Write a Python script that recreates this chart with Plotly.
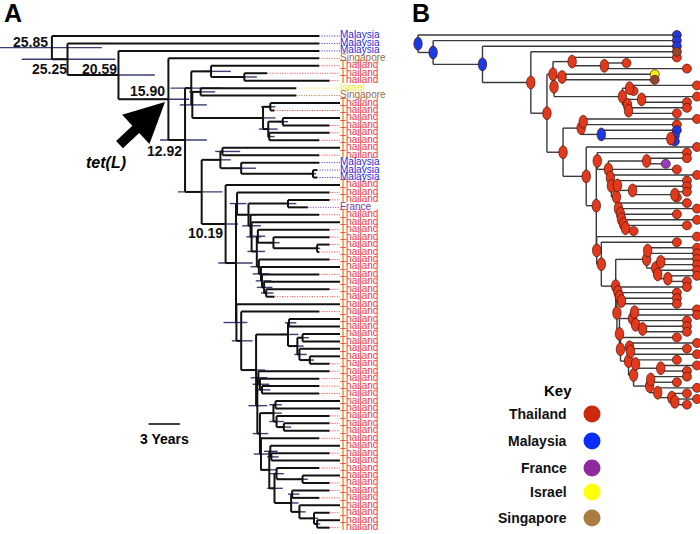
import plotly.graph_objects as go

# ---------------- data ----------------
tip_country = (["Malaysia"] * 3 + ["Singapore"] + ["Thailand"] * 3 + ["Israel", "Singapore"]
               + ["Thailand"] * 8 + ["Malaysia"] * 3 + ["Thailand"] * 3 + ["France"]
               + ["Thailand"] * 43)
# sampling age of each tip (years before the latest sample)
tip_age = [2, 2, 2, 2, 2, 7, 1, 4.2, 4.2, 0,
           6.3, 0, 1, 1, 2, 0, 2, 2, 2.2, 2.2,
           0, 1, 1, 3.1, 2, 0, 1, 1, 1, 2,
           1, 0, 2, 0, 1, 6.3, 0, 2, 0, 0,
           0, 0, 0, 0, 1, 1, 2, 2, 2, 0,
           0, 1, 1, 1, 2, 0, 1, 0, 2, 0,
           1, 1, 2, 0, 1, 0, 1]

node_name = ["N0", "N1", "N2", "N3", "N4",
             "U", "U1", "U1a", "U2", "U2a", "U2b", "U3", "U4", "U4a", "U4b",
             "L", "L1", "L1a", "L1b", "L1c",
             "P", "Q", "R", "R2", "R3", "X", "X2", "X3", "X4", "X5", "X5a", "X6", "X7", "X8", "X9", "X10",
             "S", "S2", "S3", "A6", "A1", "A5", "A2", "A4", "A3",
             "S4", "S5", "S6", "S6b", "S7", "C1", "C2", "C3", "C4",
             "D1", "D2", "D3", "D4", "D5", "D6", "D7", "D8", "D9", "D10", "D11", "D12"]
node_kids = [
    ["t0", "N1"], ["t1", "N2"], ["t2", "N3"], ["t3", "N4"], ["U", "L"],
    ["U1", "U2"], ["t4", "U1a"], ["t5", "t6"], ["U2a", "U2b"], ["t7", "t8"], ["U3", "U4"],
    ["t9", "t10"], ["U4a", "U4b"], ["t11", "t12"], ["t13", "t14"],
    ["L1", "P"], ["L1a", "L1b"], ["t15", "t16"], ["t17", "L1c"], ["t18", "t19"],
    ["t20", "Q"], ["R", "S"], ["t21", "R2"], ["R3", "X"], ["t22", "t23"], ["t24", "X2"],
    ["t25", "X3"], ["X4", "X6"], ["t26", "X5"], ["t27", "X5a"], ["t28", "t29"], ["t30", "X7"],
    ["t31", "X8"], ["t32", "X9"], ["t33", "X10"], ["t34", "t35"],
    ["t36", "S2"], ["t37", "S3"], ["A6", "S4"], ["A1", "A5"], ["t38", "t39"], ["A2", "A4"],
    ["t40", "t41"], ["t42", "A3"], ["t43", "t44"],
    ["S5", "S7"], ["t45", "S6"], ["t46", "S6b"], ["t47", "t48"], ["C1", "D1"], ["C2", "C3"],
    ["t49", "t50"], ["t51", "C4"], ["t52", "t53"],
    ["t54", "D2"], ["D3", "D5"], ["t55", "D4"], ["t56", "t57"], ["D6", "D8"], ["t58", "D7"],
    ["t59", "t60"], ["D9", "D10"], ["t61", "t62"], ["t63", "D11"], ["t64", "D12"], ["t65", "t66"],
]
node_age = [27.7, 26.2, 21.3, 16.5, 14.9,
            14.3, 12.4, 9.2, 14.2, 13.4, 7.4, 6.7, 6.9, 5.5, 6.8,
            13.3, 11.5, 11.3, 9.5, 2.6,
            11.0, 10.0, 9.9, 8.8, 5.0, 8.6, 8.5, 8.0, 7.9, 6.4, 2.2, 7.8, 7.6, 7.5, 7.3, 7.1,
            9.96, 9.5, 8.07, 5.0, 4.9, 4.1, 3.6, 3.9, 2.9,
            7.95, 7.85, 7.7, 7.5, 7.7, 6.4, 6.2, 6.1, 5.4,
            7.6, 6.8, 6.7, 6.6, 6.3, 6.1, 3.6, 4.7, 4.6, 3.9, 2.5, 2.2]
hpd_old = [32.7, 30.6, 23.5, 18.8, 17.3,
           16.3, 13.3, 9.6, 15.4, 14.5, 8.6, 7.6, 7.8, 6.0, 7.0,
           15.6, 12.5, 12.0, 10.4, 2.8,
           11.7, 11.7, 10.6, 9.8, 5.1, 9.4, 9.0, 8.9, 8.6, 7.0, 2.4, 8.6, 8.4, 8.1, 8.0, 7.6,
           11.2, 10.4, 9.0, 5.8, 5.3, 4.9, 4.0, 4.4, 3.3,
           8.8, 8.6, 8.4, 8.0, 8.4, 7.2, 6.8, 6.8, 5.9,
           8.3, 7.7, 7.3, 7.0, 7.0, 6.8, 4.0, 5.4, 5.0, 4.5, 2.9, 2.4]
hpd_young = [22.9, 21.6, 17.8, 14.5, 12.8,
             11.3, 10.5, 8.0, 12.8, 12.0, 6.2, 6.2, 6.0, 5.0, 6.3,
             11.3, 10.5, 9.6, 8.1, 2.3,
             9.8, 8.4, 9.0, 8.0, 4.2, 7.6, 7.6, 7.2, 7.2, 5.8, 1.9, 7.0, 6.8, 6.6, 6.5, 6.4,
             8.9, 8.4, 7.2, 4.0, 4.2, 3.5, 3.0, 3.2, 2.5,
             7.0, 7.0, 6.8, 6.7, 6.9, 5.6, 5.6, 5.4, 4.7,
             6.8, 6.0, 6.0, 5.9, 5.5, 5.4, 3.1, 4.0, 3.9, 3.3, 2.1, 1.9]
malaysia_nodes = ["N0", "N1", "N2", "L1b"]

node_labels = ["25.85", "25.25", "20.59", "15.90", "12.92", "10.19"]
node_label_px = [30, 49.5, 99, 147, 164.5, 205.5]
node_label_py = [42, 69, 69, 90.5, 151, 233]

countries = ["Thailand", "Malaysia", "France", "Israel", "Singapore"]
key_color = {"Thailand": "#cc2a0c", "Malaysia": "#0a2cff", "France": "#8e2a9e",
             "Israel": "#ffff0a", "Singapore": "#a97c44"}
text_color = {"Thailand": "#f03c3c", "Malaysia": "#2b2bd9", "France": "#7a3aa0",
              "Israel": "#ecea22", "Singapore": "#9c6b3c"}
dot_color = {"Thailand": "#e2381c", "Malaysia": "#1a3ae8", "France": "#9a3ac0",
             "Israel": "#f5f010", "Singapore": "#94452c"}
scale_years = 3

# ---------------- tree geometry ----------------
W, H = 700, 534
kids = dict(zip(node_name, node_kids))
age = dict(zip(node_name, node_age))
for i, a in enumerate(tip_age):
    age["t%d" % i] = a
parent = {}
for n, ks in kids.items():
    for k in ks:
        parent[k] = n

ypos = {}


def gety(n):
    if n in ypos:
        return ypos[n]
    if n.startswith("t"):
        v = float(n[1:])
    else:
        v = 0.5 * (gety(kids[n][0]) + gety(kids[n][-1]))
    ypos[n] = v
    return v


for n in node_name:
    gety(n)
for i in range(len(tip_age)):
    gety("t%d" % i)


def branch_xy():
    xs, ys = [], []
    for n in list(parent.keys()):
        xs += [age[parent[n]], age[n], None]
        ys += [ypos[n], ypos[n], None]
    for n in node_name:
        ks = kids[n]
        xs += [age[n], age[n], None]
        ys += [ypos[ks[0]], ypos[ks[-1]], None]
    return xs, ys


bx, by = branch_xy()
fig = go.Figure()

# ---------- panel A ----------
hx, hy = [], []
for n, o, yg in zip(node_name, hpd_old, hpd_young):
    hx += [o, yg, None]
    hy += [ypos[n], ypos[n], None]
fig.add_trace(go.Scatter(x=hx, y=hy, mode="lines", line=dict(color="#3b3f72", width=1.4),
                         hoverinfo="skip", xaxis="x", yaxis="y"))
fig.add_trace(go.Scatter(x=bx, y=by, mode="lines", line=dict(color="#111111", width=2),
                         hoverinfo="skip", xaxis="x", yaxis="y"))
for c in countries:
    dx, dy, lx, ly = [], [], [], []
    for i, (cc, a) in enumerate(zip(tip_country, tip_age)):
        if cc != c:
            continue
        lx.append(0)
        ly.append(i)
        if a > 0:
            dx += [a, 0, None]
            dy += [i, i, None]
    fig.add_trace(go.Scatter(x=dx, y=dy, mode="lines",
                             line=dict(color=text_color[c], width=1, dash="1px,1.5px"),
                             hoverinfo="skip", xaxis="x", yaxis="y"))
    fig.add_trace(go.Scatter(x=lx, y=ly, mode="text", text=[c] * len(lx),
                             textposition="middle right", cliponaxis=False,
                             textfont=dict(family="Liberation Sans, Arial", size=10, color=text_color[c]),
                             hoverinfo="skip", xaxis="x", yaxis="y"))

# ---------- panel B ----------
fig.add_trace(go.Scatter(x=bx, y=by, mode="lines", line=dict(color="#3a3a3a", width=1.4),
                         hoverinfo="skip", xaxis="x2", yaxis="y2"))
shapes = []
for n in node_name:
    col = dot_color["Malaysia"] if n in malaysia_nodes else dot_color["Thailand"]
    shapes.append(dict(type="circle", xref="x2", yref="y2",
                       x0=age[n] + 0.42, x1=age[n] - 0.42,
                       y0=ypos[n] - 1.15, y1=ypos[n] + 1.15,
                       fillcolor=col, line=dict(color="#4a1408", width=0.7), layer="above"))
for c in countries:
    tx = [a for cc, a in zip(tip_country, tip_age) if cc == c]
    ty = [i for i, cc in enumerate(tip_country) if cc == c]
    fig.add_trace(go.Scatter(x=tx, y=ty, mode="markers",
                             marker=dict(size=9, color=dot_color[c],
                                         line=dict(color="#4a1408", width=0.7)),
                             hoverinfo="skip", xaxis="x2", yaxis="y2"))

# ---------- decorations ----------
bold = "Liberation Sans, Arial, sans-serif"
ann = []


def note(px, py, text, size, xanchor="center", color="#111111"):
    ann.append(dict(x=px / W, y=1 - py / H, xref="paper", yref="paper", xanchor=xanchor,
                    yanchor="middle", text=text, showarrow=False,
                    font=dict(family=bold, size=size, color=color)))


note(13, 13, "<b>A</b>", 25, color="black")
note(421, 13, "<b>B</b>", 25, color="black")
for t, px, py in zip(node_labels, node_label_px, node_label_py):
    note(px, py, "<b>%s</b>" % t, 14)
ann.append(dict(x=165 / W, y=1 - 102 / H, xref="paper", yref="paper", text="",
                showarrow=True, arrowhead=2, arrowwidth=10, arrowsize=0.8, arrowcolor="black",
                ax=-47, ay=44, standoff=0))
note(106, 163, "<b><i>tet(L)</i></b>", 16, color="black")
note(164, 439, "<b>3 Years</b>", 14, color="black")
shapes.append(dict(type="line", xref="x", yref="paper", x0=18.4, x1=18.4 - scale_years,
                   y0=1 - 424 / H, y1=1 - 424 / H, line=dict(color="black", width=1.5)))
note(558, 390, "<b>Key</b>", 15, color="black")
key_py = [414, 441, 468, 492, 518]
for c, py in zip(countries, key_py):
    note(569, py, "<b>%s</b>" % c, 14, xanchor="right")
    shapes.append(dict(type="circle", xref="paper", yref="paper",
                       x0=(592 - 8.5) / W, x1=(592 + 8.5) / W,
                       y0=1 - (py + 8.5) / H, y1=1 - (py - 8.5) / H,
                       fillcolor=key_color[c], line=dict(width=0)))

fig.update_layout(
    width=W, height=H, margin=dict(l=0, r=0, t=0, b=0),
    paper_bgcolor="white", plot_bgcolor="white", showlegend=False,
    xaxis=dict(domain=[0, 350 / W], range=[32.69, -0.96], visible=False, fixedrange=True),
    yaxis=dict(domain=[0, 1], range=[66.85, -4.83], visible=False, fixedrange=True),
    xaxis2=dict(domain=[400 / W, 1], range=[29.49, -0.298], visible=False, anchor="y2", fixedrange=True),
    yaxis2=dict(domain=[0, 1], range=[89.1, -6.25], visible=False, anchor="x2", fixedrange=True),
    shapes=shapes, annotations=ann,
)
fig.write_html("out.html", config={"displayModeBar": False},
               post_script="document.body.style.margin='0px';")
